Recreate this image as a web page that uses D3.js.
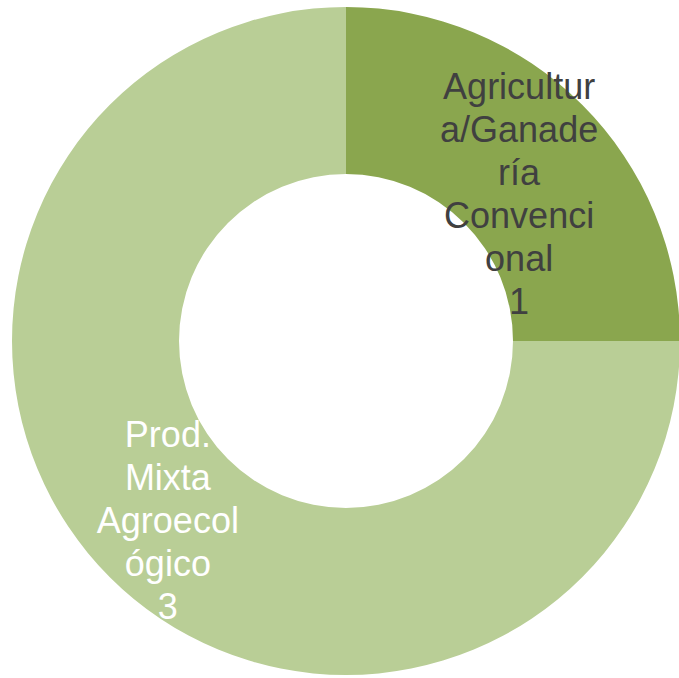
<!DOCTYPE html>
<html>
<head>
<meta charset="utf-8">
<script src="https://cdn.jsdelivr.net/npm/d3@7"></script>
<style>
  body { margin: 0; background: #fff; }
  text { font-family: "Liberation Sans", Arial, sans-serif; }
</style>
</head>
<body>
<div id="chart"></div>
<script>
// data
const categories = ["Agricultura/Ganadería Convencional", "Prod. Mixta Agroecológico"];
const values = [1, 3];
const labelLines = [
  ["Agricultur", "a/Ganade", "ría", "Convenci", "onal", "1"],
  ["Prod.", "Mixta", "Agroecol", "ógico", "3"]
];
const colors = ["#8aa64e", "#b9ce96"];
const labelColors = ["#404040", "#ffffff"];
// nudges for the label blocks (Excel shifted the first one down)
const labelShift = [[-4, 28], [-1, 0]];

const width = 679, height = 678;
const cx = 346, cy = 341;
const outerR = 334, innerR = 167;
const lineH = 43;

const svg = d3.select("#chart")
  .append("svg")
  .attr("width", width)
  .attr("height", height);

const g = svg.append("g").attr("transform", `translate(${cx},${cy})`);

const pie = d3.pie().sort(null).value((d) => d);
const arc = d3.arc().innerRadius(innerR).outerRadius(outerR);

const slices = pie(values);

g.selectAll(".slice")
  .data(slices)
  .enter()
  .append("path")
  .attr("class", "slice")
  .attr("d", arc)
  .attr("fill", (d, i) => colors[i]);

slices.forEach((d, i) => {
  const c = arc.centroid(d);
  const lines = labelLines[i];
  const x = c[0] + labelShift[i][0];
  const y0 = c[1] - ((lines.length - 1) / 2) * lineH + 15 + labelShift[i][1];
  const t = g.append("text")
    .attr("text-anchor", "middle")
    .style("font-size", "36px")
    .attr("fill", labelColors[i]);
  lines.forEach((s, k) => {
    t.append("tspan").attr("x", x).attr("y", y0 + k * lineH).text(s);
  });
});
</script>
</body>
</html>
